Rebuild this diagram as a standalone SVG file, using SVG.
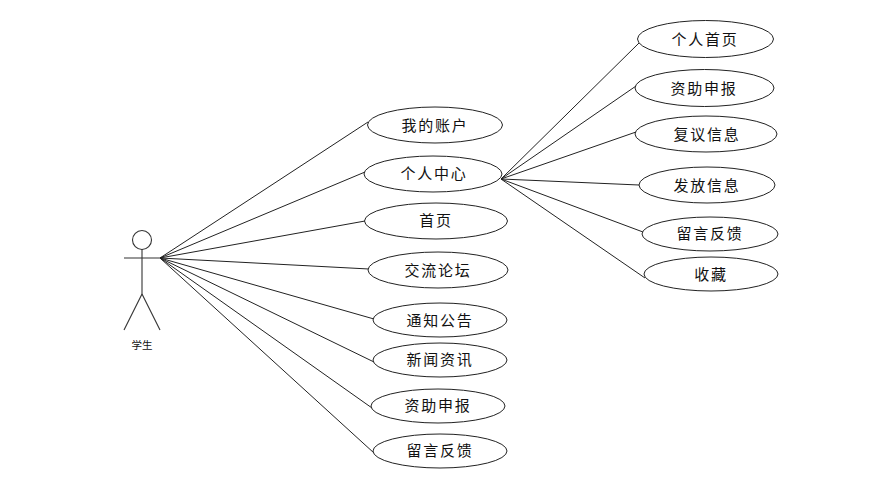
<svg xmlns="http://www.w3.org/2000/svg" width="878" height="488" viewBox="0 0 878 488">
<style>
.n{fill:#fff;stroke:#222;stroke-width:1}
.c line{stroke:#222;stroke-width:1}
.a line,.a circle{stroke:#333;stroke-width:1.1;fill:#fff}
text{font-family:"Noto Sans CJK SC","Liberation Sans",sans-serif;font-size:15px;fill:#111;text-anchor:middle;letter-spacing:1.7px}
.s{font-size:10.5px;letter-spacing:0}
</style>
<rect width="878" height="488" fill="#fff"/>
<g id="connectors" class="c">
<line x1="160" y1="258" x2="368" y2="122"/>
<line x1="160" y1="258" x2="365" y2="172"/>
<line x1="160" y1="258" x2="365" y2="221"/>
<line x1="160" y1="258" x2="369" y2="269"/>
<line x1="160" y1="258" x2="374" y2="319"/>
<line x1="160" y1="258" x2="374" y2="362"/>
<line x1="160" y1="258" x2="372" y2="408"/>
<line x1="160" y1="258" x2="374" y2="453"/>
<line x1="501" y1="179" x2="639" y2="43"/>
<line x1="501" y1="179" x2="636" y2="86"/>
<line x1="501" y1="179" x2="636" y2="132"/>
<line x1="501" y1="179" x2="639" y2="185"/>
<line x1="501" y1="179" x2="643" y2="232"/>
<line x1="501" y1="179" x2="645" y2="278"/>
</g>
<g id="actor" class="a">
<circle cx="142" cy="240" r="9.500"/>
<line x1="142" y1="249" x2="142" y2="294"/>
<line x1="124" y1="258" x2="160" y2="258"/>
<line x1="142" y1="294" x2="124" y2="330"/>
<line x1="142" y1="294" x2="160" y2="330"/>
<text class="s" x="142" y="349" stroke="none">学生</text>
</g>
<g id="n1"><ellipse class="n" cx="435" cy="125" rx="67.500" ry="18"/><text x="435" y="131">我的账户</text></g>
<g id="n2"><ellipse class="n" cx="433" cy="174" rx="69" ry="18"/><text x="434" y="179">个人中心</text></g>
<g id="n3"><ellipse class="n" cx="436" cy="221" rx="71.500" ry="18"/><text x="436" y="226">首页</text></g>
<g id="n4"><ellipse class="n" cx="438" cy="270" rx="70" ry="18"/><text x="438" y="276">交流论坛</text></g>
<g id="n5"><ellipse class="n" cx="440" cy="320" rx="67" ry="17"/><text x="440" y="326">通知公告</text></g>
<g id="n6"><ellipse class="n" cx="440" cy="360" rx="67" ry="17"/><text x="440" y="365">新闻资讯</text></g>
<g id="n7"><ellipse class="n" cx="438" cy="406" rx="67" ry="17"/><text x="438" y="411">资助申报</text></g>
<g id="n8"><ellipse class="n" cx="440" cy="451" rx="67" ry="17"/><text x="440" y="456">留言反馈</text></g>
<g id="m1"><ellipse class="n" cx="705.500" cy="39" rx="68" ry="18.500"/><text x="705" y="45">个人首页</text></g>
<g id="m2"><ellipse class="n" cx="704.500" cy="88" rx="69.500" ry="18.500"/><text x="704" y="94">资助申报</text></g>
<g id="m3"><ellipse class="n" cx="706" cy="134" rx="71" ry="18"/><text x="707" y="140">复议信息</text></g>
<g id="m4"><ellipse class="n" cx="707" cy="185" rx="68" ry="18"/><text x="707" y="191">发放信息</text></g>
<g id="m5"><ellipse class="n" cx="710" cy="234" rx="68" ry="17"/><text x="710" y="239">留言反馈</text></g>
<g id="m6"><ellipse class="n" cx="711" cy="274" rx="67" ry="17"/><text x="711" y="280">收藏</text></g>
</svg>
